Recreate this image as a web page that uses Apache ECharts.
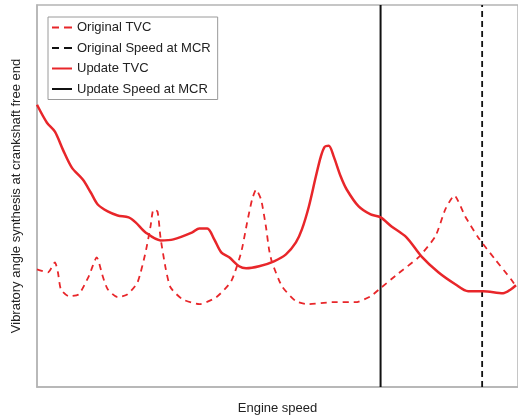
<!DOCTYPE html>
<html>
<head>
<meta charset="utf-8">
<script src="https://cdn.jsdelivr.net/npm/echarts@6/dist/echarts.min.js"></script>
<style>
  html, body { margin: 0; padding: 0; background: #fff; }
  #chart { width: 518px; height: 420px; }
</style>
</head>
<body>
<div id="chart"></div>
<script>
// Engine speed (relative units) and vibratory angle amplitude (relative units)
const updateSpeed = [0, 10, 18, 26, 35, 46, 54, 61, 71, 81, 92, 99, 109, 124, 137, 156, 163, 171, 178, 185, 193, 203, 210, 223, 238, 250, 260, 266, 273, 280, 285, 289, 293, 298, 305, 311, 323, 335, 345, 356, 371, 386, 403, 420, 433, 448, 468, 476, 481];
const updateTVC   = [283, 265, 256, 238, 220, 208, 195, 183, 176, 172, 170, 165, 155, 147, 148, 155, 159, 159, 148, 135, 130, 121, 119, 121, 126, 133, 145, 158, 181, 211, 231, 241, 242, 231, 211, 198, 181, 173, 170, 161, 150, 131, 115, 103, 96, 96, 94, 98, 102];

const originalSpeed = [0, 11, 18, 21, 24, 32, 42, 52, 60, 66, 71, 81, 91, 101, 109, 114, 117, 121, 124, 129, 134, 146, 163, 180, 195, 205, 211, 216, 220, 225, 230, 233, 236, 246, 260, 273, 296, 320, 335, 346, 363, 383, 400, 410, 419, 430, 443, 460, 476, 481];
const originalTVC   = [118, 115, 125, 115, 98, 91, 93, 111, 130, 111, 98, 90, 93, 105, 135, 161, 178, 176, 150, 120, 100, 88, 83, 90, 106, 135, 165, 188, 198, 188, 160, 138, 125, 101, 86, 83, 85, 85, 91, 100, 114, 130, 151, 178, 192, 171, 150, 128, 108, 101];

// Speeds at MCR
const updateMCR = 345;
const originalMCR = 447;

const yMin = 0, yMax = 383;
const xMin = 0, xMax = 483;

const zip = (xs, ys) => xs.map((x, i) => [x, ys[i]]);
const red = '#e8262a';
const dark = '#111';
const fontFamily = '"Liberation Sans", Arial, Helvetica, sans-serif';

// Legend glyphs: short line segments, dashed or solid
const dashedIcon = 'path://M0,0h7v2h-7zM12,0h8v2h-8z';
const solidIcon = 'path://M0,0h20v2h-20z';

const chart = echarts.init(document.getElementById('chart'), null, { renderer: 'canvas' });
chart.setOption({
  animation: false,
  backgroundColor: '#fff',
  grid: {
    left: 37, top: 5, right: -2, bottom: 32,
    show: true, borderColor: '#b4b4b4', borderWidth: 1.5, backgroundColor: 'transparent'
  },
  legend: {
    orient: 'vertical',
    left: 48, top: 17,
    padding: [4, 7, 4, 4],
    itemGap: 7.5,
    itemWidth: 20, itemHeight: 2.2,
    borderColor: '#9a9a9a', borderWidth: 1,
    backgroundColor: '#fff',
    textStyle: { fontFamily, fontSize: 13, color: '#222' },
    data: [
      { name: 'Original TVC', icon: dashedIcon },
      { name: 'Original Speed at MCR', icon: dashedIcon },
      { name: 'Update TVC', icon: solidIcon },
      { name: 'Update Speed at MCR', icon: solidIcon }
    ]
  },
  xAxis: {
    type: 'value', min: xMin, max: xMax,
    name: 'Engine speed', nameLocation: 'middle', nameGap: 15,
    nameTextStyle: { fontFamily, fontSize: 13, color: '#222' },
    axisLine: { show: true, lineStyle: { color: '#b4b4b4', width: 1.5 } },
    axisTick: { show: false }, axisLabel: { show: false }, splitLine: { show: false }
  },
  yAxis: {
    type: 'value', min: yMin, max: yMax,
    name: 'Vibratory angle synthesis at crankshaft free end', nameLocation: 'middle', nameGap: 14,
    nameTextStyle: { fontFamily, fontSize: 13, color: '#222' },
    axisLine: { show: true, lineStyle: { color: '#b4b4b4', width: 1.5 } },
    axisTick: { show: false }, axisLabel: { show: false }, splitLine: { show: false }
  },
  series: [
    {
      name: 'Original TVC', type: 'line', data: zip(originalSpeed, originalTVC),
      smooth: 0.2, symbol: 'none', z: 3,
      lineStyle: { color: red, width: 1.8, type: [6, 5] }, itemStyle: { color: red }
    },
    {
      name: 'Original Speed at MCR', type: 'line', data: [[originalMCR, yMin], [originalMCR, yMax]],
      symbol: 'none', z: 2,
      lineStyle: { color: dark, width: 1.8, type: [6, 4] }, itemStyle: { color: dark }
    },
    {
      name: 'Update TVC', type: 'line', data: zip(updateSpeed, updateTVC),
      smooth: 0.3, symbol: 'none', z: 4,
      lineStyle: { color: red, width: 2.5 }, itemStyle: { color: red }
    },
    {
      name: 'Update Speed at MCR', type: 'line', data: [[updateMCR, yMin], [updateMCR, yMax]],
      symbol: 'none', z: 2,
      lineStyle: { color: dark, width: 2 }, itemStyle: { color: dark }
    }
  ]
});
</script>
</body>
</html>
